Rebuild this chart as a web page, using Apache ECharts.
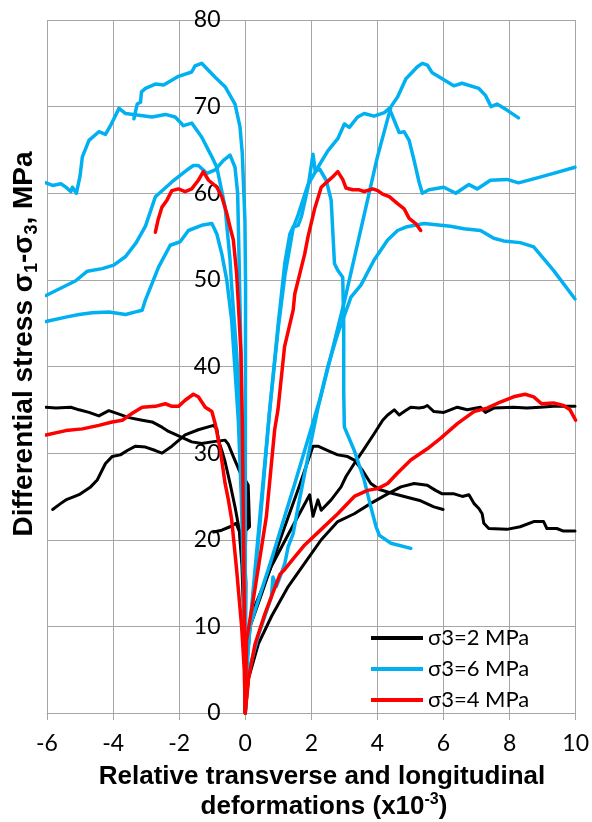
<!DOCTYPE html>
<html>
<head>
<meta charset="utf-8">
<script src="https://cdn.jsdelivr.net/npm/echarts@6/dist/echarts.min.js"></script>
<style>
html,body{margin:0;padding:0;background:#fff;}
#chart{width:592px;height:822px;}
</style>
</head>
<body>
<div id="chart"></div>
<script>
// ---------- axis ticks ----------
const xTicks = [-6, -4, -2, 0, 2, 4, 6, 8, 10];
const yTicks = [0, 10, 20, 30, 40, 50, 60, 70, 80];
const legendNames = ['σ3=2 MPa', 'σ3=6 MPa', 'σ3=4 MPa'];

// ---------- σ3 = 2 MPa (black) ----------
const blackT1 = [[-6.03,35.3],[-5.73,35.2],[-5.28,35.3],[-5.03,35.0],[-4.73,34.7],[-4.43,34.3],[-4.13,34.9],[-3.82,34.5],[-3.52,34.1],[-3.12,33.8],[-2.82,33.6],[-2.52,33.0],[-2.32,32.5],[-1.97,31.9],[-1.62,31.3],[-1.32,31.1],[-1.01,31.3],[-0.61,31.5],[-0.51,31.0],[-0.36,29.6],[-0.16,27.8],[-0.06,27.3],[0.09,26.3],[0.13,21.5],[0.05,21.2],[0.08,26.0],[0.02,22.0],[0.0,17.0],[0.02,15.0],[0,0]];
const blackT2 = [[-5.83,23.5],[-5.58,24.2],[-5.43,24.6],[-5.03,25.2],[-4.68,26.1],[-4.48,26.9],[-4.23,28.8],[-4.03,29.6],[-3.78,29.8],[-3.57,30.3],[-3.32,30.8],[-3.02,30.7],[-2.72,30.3],[-2.52,30.0],[-2.22,30.8],[-1.82,32.1],[-1.42,32.7],[-0.96,33.2],[-0.86,32.8],[-0.81,31.5],[-0.71,30.3],[-0.61,29.0],[-0.46,26.5],[-0.31,23.8],[-0.16,20.7],[-0.06,16.9],[-0.01,11.0],[0,0]];
const blackT3 = [[-0.96,20.9],[-0.71,21.1],[-0.46,21.5],[-0.28,21.9],[-0.18,21.0],[-0.10,17.0],[-0.04,10.0],[0,0]];
const blackL1 = [[0,0],[0.03,8.0],[0.2,11.5],[0.8,17.0],[1.3,20.6],[1.95,25.2],[2.05,22.7],[2.2,24.6],[2.3,23.4],[2.35,23.2],[2.6,24.6],[2.9,26.1],[3.05,27.3],[3.3,28.8],[3.6,30.5],[3.91,32.3],[4.16,33.8],[4.31,34.4],[4.51,35.0],[4.66,34.4],[4.81,34.8],[5.01,35.3],[5.26,35.2],[5.41,35.3],[5.51,35.5],[5.71,34.8],[6.01,34.7],[6.42,35.3],[6.72,35.0],[7.12,35.3],[7.27,34.7],[7.52,35.2],[8.12,35.3],[8.52,35.2],[8.93,35.3],[9.33,35.4],[9.98,35.4]];
const blackL2 = [[0,0],[0.04,6.0],[0.1,9.5],[0.5,13.8],[1.1,20.5],[1.6,25.8],[2.05,30.8],[2.2,30.8],[2.5,30.3],[2.8,29.8],[3.1,29.6],[3.3,29.2],[3.55,28.0],[3.8,26.5],[4.06,25.8],[4.41,25.4],[4.81,25.0],[5.31,24.5],[5.71,23.8],[5.99,23.5]];
const blackL3 = [[0,0],[0.1,4.0],[0.4,8.0],[0.8,11.2],[1.3,14.6],[1.8,17.3],[2.3,20.0],[2.8,22.1],[3.3,23.0],[3.8,24.2],[4.31,25.3],[4.71,26.1],[5.11,26.5],[5.51,26.3],[5.76,25.7],[5.96,25.3],[6.32,25.3],[6.57,25.0],[6.77,25.2],[6.92,24.2],[7.07,23.6],[7.17,23.0],[7.22,21.9],[7.37,21.3],[7.92,21.2],[8.32,21.5],[8.73,22.1],[9.03,22.1],[9.13,21.3],[9.43,21.3],[9.63,21.0],[9.98,21.0]];

// ---------- σ3 = 6 MPa (blue) ----------
const blueA = [[0,0],[0.0,20.0],[0.01,49.2],[-0.01,56.9],[-0.09,64.6],[-0.16,67.7],[-0.31,70.3],[-0.61,72.3],[-0.91,73.4],[-1.32,75.0],[-1.52,74.7],[-1.62,74.0],[-2.02,73.5],[-2.47,72.5],[-2.72,72.6],[-3.02,72.1],[-3.14,71.7],[-3.17,70.5],[-3.27,70.3],[-3.37,68.6]];
const blueB = [[-6.03,61.2],[-5.83,60.9],[-5.58,61.1],[-5.43,60.7],[-5.28,60.2],[-5.23,60.7],[-5.11,60.0],[-5.0,62.0],[-4.93,64.2],[-4.73,66.1],[-4.43,67.1],[-4.23,66.8],[-4.08,67.8],[-3.82,69.8],[-3.62,69.2],[-3.22,69.0],[-2.82,68.8],[-2.42,69.1],[-2.12,68.8],[-1.87,67.8],[-1.62,68.1],[-1.32,66.5],[-1.01,64.2],[-0.86,63.0],[-0.61,58.4],[-0.46,52.3],[-0.41,49.2],[-0.26,41.5],[-0.16,33.8],[-0.08,25.0],[-0.03,15.0],[0,0]];
const blueC = [[-6.03,48.2],[-5.13,49.9],[-4.78,51.0],[-4.33,51.3],[-3.98,51.7],[-3.62,52.7],[-3.3,54.3],[-3.02,56.2],[-2.72,59.6],[-2.22,61.3],[-1.72,62.8],[-1.57,63.2],[-1.42,63.2],[-1.16,62.3],[-0.91,62.7],[-0.66,63.8],[-0.46,64.4],[-0.31,63.0],[-0.23,60.0],[-0.19,53.0],[-0.13,41.5],[-0.11,33.8],[-0.06,20.0],[-0.02,8.0],[0,0]];
const blueD = [[-6.03,45.2],[-5.43,45.7],[-5.03,46.0],[-4.63,46.2],[-4.13,46.3],[-3.62,46.0],[-3.32,46.3],[-3.12,46.5],[-3.02,47.7],[-2.62,51.5],[-2.27,54.0],[-1.97,54.4],[-1.72,55.7],[-1.32,56.3],[-1.01,56.5],[-0.86,55.3],[-0.71,53.0],[-0.56,50.0],[-0.41,45.3],[-0.31,39.6],[-0.21,33.8],[-0.12,25.0],[-0.05,15.0],[0,0]];
const blueE = [[0,0],[0.09,4.6],[0.4,9.0],[0.79,13.4],[0.84,15.7],[0.94,14.6],[1.09,16.1],[1.2,17.3],[1.3,19.2],[1.45,20.7],[1.6,23.8],[1.8,27.7],[2.0,31.5],[2.2,35.2],[3.0,47.5],[4.0,64.2],[4.41,70.0],[4.61,71.1],[4.86,73.2],[5.06,74.0],[5.21,74.6],[5.36,75.0],[5.51,74.8],[5.66,73.9],[6.01,73.1],[6.31,72.4],[6.56,72.7],[7.07,72.1],[7.27,71.3],[7.44,70.0],[7.62,70.3],[7.92,69.6],[8.27,68.7]];
const blueF = [[0,0],[0.05,6.0],[0.2,12.0],[0.45,22.0],[0.74,35.0],[1.0,44.5],[1.2,50.5],[1.45,56.0],[1.6,57.5],[1.9,61.0],[2.2,63.0],[2.5,64.9],[2.8,66.3],[3.0,68.0],[3.15,67.6],[3.4,68.8],[3.6,69.2],[3.9,68.9],[4.21,69.3],[4.36,69.8],[4.51,68.4],[4.66,67.0],[4.81,67.1],[4.96,66.1],[5.11,63.8],[5.26,61.3],[5.36,60.0],[5.56,60.4],[6.01,60.7],[6.37,60.0],[6.77,61.0],[7.02,60.5],[7.42,61.5],[7.92,61.6],[8.27,61.2],[8.67,61.6],[9.33,62.3],[9.98,63.0]];
const blueG = [[0,0],[0.05,6.0],[0.2,12.5],[0.45,23.0],[0.74,35.0],[1.0,45.0],[1.2,52.0],[1.35,55.3],[1.45,56.1],[1.6,56.3],[1.7,57.3],[1.9,60.7],[2.05,64.5],[2.12,62.5],[2.25,62.8],[2.45,61.5],[2.6,59.2],[2.7,51.9],[2.8,51.1],[2.95,50.3],[2.98,45.0],[2.98,37.0],[3.0,33.0],[3.3,30.3],[3.6,26.9],[3.8,23.8],[3.96,21.5],[4.06,20.5],[4.41,19.6],[5.01,19.0]];
const blueH = [[0,0],[0.05,5.0],[0.14,10.0],[0.8,17.8],[1.5,26.5],[2.25,36.1],[2.5,40.0],[2.8,43.8],[3.2,48.0],[3.5,49.4],[3.9,52.3],[4.31,54.6],[4.61,55.7],[4.86,56.1],[5.41,56.5],[6.21,56.2],[6.62,55.9],[7.12,55.7],[7.52,54.8],[7.82,54.5],[8.32,54.3],[8.73,53.8],[9.33,51.1],[9.98,47.8]];

// ---------- σ3 = 4 MPa (red) ----------
const redTHigh = [[-2.72,55.5],[-2.64,56.9],[-2.52,58.4],[-2.37,59.2],[-2.22,60.3],[-2.02,60.5],[-1.82,60.2],[-1.62,60.5],[-1.42,61.5],[-1.27,62.5],[-1.11,61.5],[-0.86,60.7],[-0.71,59.6],[-0.56,57.7],[-0.46,56.1],[-0.36,54.6],[-0.26,50.7],[-0.21,47.3],[-0.13,41.5],[-0.09,33.8],[-0.05,20.0],[-0.02,8.0],[0,0]];
const redTLow = [[-6.03,32.1],[-5.43,32.6],[-4.93,32.8],[-4.43,33.2],[-4.03,33.6],[-3.72,33.8],[-3.42,34.6],[-3.12,35.3],[-2.72,35.4],[-2.42,35.7],[-2.22,35.4],[-2.02,35.4],[-1.82,36.1],[-1.57,36.8],[-1.42,36.5],[-1.21,35.3],[-1.01,34.8],[-0.91,33.4],[-0.76,30.5],[-0.61,26.5],[-0.51,24.6],[-0.41,22.3],[-0.26,16.5],[-0.11,10.0],[-0.03,5.0],[0,0]];
const redLHigh = [[0,0],[0.04,8.4],[0.29,14.2],[0.64,22.7],[0.89,32.7],[0.99,35.0],[1.19,42.3],[1.45,46.5],[1.5,48.4],[1.65,50.7],[1.8,53.0],[1.9,55.0],[2.1,58.2],[2.3,60.7],[2.5,61.4],[2.65,61.9],[2.8,62.5],[2.95,61.6],[3.05,60.6],[3.25,60.4],[3.45,60.4],[3.6,60.2],[3.86,60.5],[4.01,60.3],[4.16,59.9],[4.36,59.6],[4.61,58.8],[4.81,58.2],[4.96,57.1],[5.16,56.5],[5.31,55.7]];
const redLLow = [[0,0],[0.1,4.0],[0.3,8.0],[0.6,11.5],[0.85,14.0],[1.05,16.0],[1.2,16.6],[1.45,17.8],[1.8,19.4],[2.3,21.2],[2.8,23.0],[3.3,25.0],[3.7,25.7],[4.01,25.9],[4.31,26.5],[4.61,27.7],[5.01,29.2],[5.51,30.5],[5.91,31.7],[6.42,33.4],[6.92,34.8],[7.32,35.2],[7.72,35.9],[8.12,36.5],[8.47,36.8],[8.73,36.5],[8.97,35.7],[9.33,35.8],[9.63,35.5],[9.83,35.0],[10.0,33.8]];

const BLACK = '#000000', BLUE = '#00b0f0', RED = '#ff0000', GRID = '#a6a6a6';
const GRID_LEFT = 47, GRID_RIGHT = 13;
const PLOT_W = 592 - GRID_LEFT - GRID_RIGHT;
// y axis sits at x = 0 (shifted inward from the left edge of the grid)
const yAxisShift = PLOT_W * (0 - xTicks[0]) / (xTicks[xTicks.length - 1] - xTicks[0]);

function mk(name, data, color, width) {
  return {
    name: name, type: 'line', data: data, showSymbol: false, symbol: 'none',
    smooth: false, animation: false, silent: true,
    lineStyle: { color: color, width: width, cap: 'round', join: 'round' },
    itemStyle: { color: color }
  };
}

const series = [
  mk(legendNames[0], blackT1, BLACK, 3),
  mk(legendNames[0], blackT2, BLACK, 3),
  mk(legendNames[0], blackT3, BLACK, 3),
  mk(legendNames[0], blackL1, BLACK, 3),
  mk(legendNames[0], blackL2, BLACK, 3),
  mk(legendNames[0], blackL3, BLACK, 3),
  mk(legendNames[1], blueA, BLUE, 3.5),
  mk(legendNames[1], blueB, BLUE, 3.5),
  mk(legendNames[1], blueC, BLUE, 3.5),
  mk(legendNames[1], blueD, BLUE, 3.5),
  mk(legendNames[1], blueE, BLUE, 3.5),
  mk(legendNames[1], blueF, BLUE, 3.5),
  mk(legendNames[1], blueG, BLUE, 3.5),
  mk(legendNames[1], blueH, BLUE, 3.5),
  mk(legendNames[2], redTHigh, RED, 3.5),
  mk(legendNames[2], redTLow, RED, 3.5),
  mk(legendNames[2], redLHigh, RED, 3.5),
  mk(legendNames[2], redLLow, RED, 3.5)
];

const chart = echarts.init(document.getElementById('chart'), null, { renderer: 'canvas' });
const option = {
  animation: false,
  backgroundColor: '#ffffff',
  grid: { left: GRID_LEFT, right: GRID_RIGHT, top: 20, bottom: 109, containLabel: false },
  xAxis: {
    type: 'value', min: xTicks[0], max: xTicks[xTicks.length - 1], interval: 2,
    axisLine: { show: true, onZero: false, lineStyle: { color: GRID, width: 1 } },
    axisTick: { show: true, length: 7, lineStyle: { color: GRID } },
    axisLabel: { fontSize: 23, color: '#000', margin: 19, fontFamily: 'Lato' },
    splitLine: { show: true, lineStyle: { color: GRID, width: 1 } }
  },
  yAxis: {
    type: 'value', min: yTicks[0], max: yTicks[yTicks.length - 1], interval: 10,
    position: 'left', offset: -yAxisShift,
    axisLine: { show: false, onZero: false },
    axisTick: { show: false },
    axisLabel: { fontSize: 23, color: '#000', margin: 26, fontFamily: 'Lato' },
    splitLine: { show: true, lineStyle: { color: GRID, width: 1 } }
  },
  legend: {
    data: legendNames,
    orient: 'vertical', left: 371, top: 627, padding: 0,
    itemWidth: 52, itemHeight: 4, itemGap: 9, icon: 'rect',
    selectedMode: false,
    textStyle: { fontSize: 22, fontFamily: 'Lato', color: '#000', lineHeight: 20 }
  },
  graphic: [
    {
      type: 'text', x: 22, y: 344, rotation: Math.PI / 2, silent: true,
      style: {
        text: '{a|Differential stress σ}{s|1}{a|-σ}{s|3}{a|, MPa}',
        align: 'center', verticalAlign: 'middle',
        rich: {
          a: { fontSize: 28, fontWeight: 'bold', fontFamily: 'Liberation Sans', fill: '#000', lineHeight: 32, verticalAlign: 'bottom' },
          s: { fontSize: 18, fontWeight: 'bold', fontFamily: 'Liberation Sans', fill: '#000', lineHeight: 18, verticalAlign: 'bottom', padding: [0, 0, -3, 0] }
        }
      }
    },
    {
      type: 'text', x: 322, y: 777, silent: true,
      style: {
        text: 'Relative transverse and longitudinal',
        align: 'center', verticalAlign: 'middle',
        fontSize: 26, fontWeight: 'bold', fontFamily: 'Liberation Sans', fill: '#000'
      }
    },
    {
      type: 'text', x: 324, y: 807, silent: true,
      style: {
        text: '{a|deformations (x10}{p|-3}{a|)}',
        align: 'center', verticalAlign: 'middle',
        rich: {
          a: { fontSize: 26, fontWeight: 'bold', fontFamily: 'Liberation Sans', fill: '#000', lineHeight: 30 },
          p: { fontSize: 16, fontWeight: 'bold', fontFamily: 'Liberation Sans', fill: '#000', lineHeight: 16, verticalAlign: 'top' }
        }
      }
    }
  ],
  series: series
};
chart.setOption(option);
</script>
</body>
</html>
